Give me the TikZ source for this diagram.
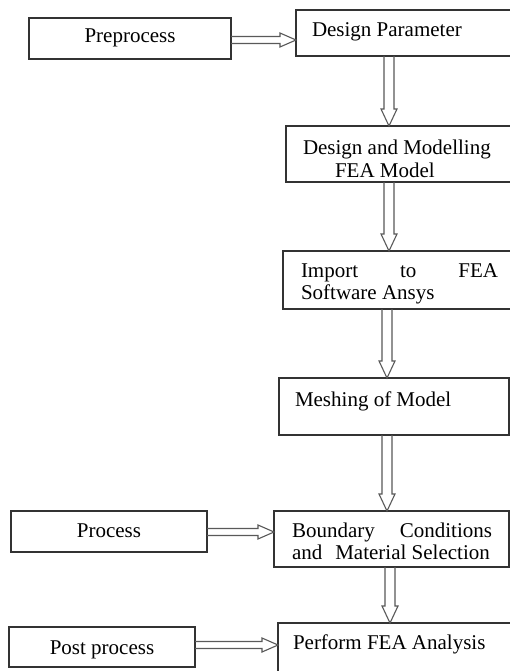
\documentclass[tikz,border=0pt]{standalone}
\usepackage{fontspec}
\setmainfont{Liberation Serif}
\usetikzlibrary{calc}
\tikzset{
  box/.style={draw=black!80, line width=1.2pt, inner sep=0pt, outer sep=0pt, anchor=north west},
  lbl/.style={inner sep=0pt, outer sep=0pt, font=\fontsize{21}{22}\selectfont, text=black},
  blk/.style={draw=black!65, line width=1.1pt, line join=miter},
}
% vertical block arrow: from node #1 (south) to node #2 (north) at x=#3
\newcommand\vblk[3]{%
  \draw[blk] let \p1=(#1.south), \p2=(#2.north) in
    (#3pt-5pt,\y1) -- (#3pt-5pt,\y2+17pt) -- (#3pt-8pt,\y2+17pt) -- (#3pt,\y2)
    -- (#3pt+8pt,\y2+17pt) -- (#3pt+5pt,\y2+17pt) -- (#3pt+5pt,\y1);}
% horizontal block arrow: from node #1 (east) to node #2 (west) at y=#3 (px from top)
\newcommand\hblk[3]{%
  \draw[blk] let \p1=(#1.east), \p2=(#2.west) in
    (\x1,-#3pt+3.5pt) -- (\x2-16pt,-#3pt+3.5pt) -- (\x2-16pt,-#3pt+7pt) -- (\x2,-#3pt)
    -- (\x2-16pt,-#3pt-7pt) -- (\x2-16pt,-#3pt-3.5pt) -- (\x1,-#3pt-3.5pt);}
\begin{document}
\begin{tikzpicture}[x=1pt,y=-1pt]
\path[use as bounding box, clip] (0,0) rectangle (510,671);
\fill[white] (0,0) rectangle (510,671);
% boxes
\node[box, minimum width=202pt, minimum height=41pt] (pre) at (29,18) {};
\node[box, minimum width=230pt, minimum height=46pt] (dp) at (296,10) {};
\node[box, minimum width=240pt, minimum height=56pt] (dm) at (286,126) {};
\node[box, minimum width=240pt, minimum height=58pt] (imp) at (283,251) {};
\node[box, minimum width=230pt, minimum height=57pt] (mesh) at (279,378) {};
\node[box, minimum width=196pt, minimum height=41pt] (proc) at (11,511) {};
\node[box, minimum width=235pt, minimum height=56pt] (bc) at (274,511) {};
\node[box, minimum width=186pt, minimum height=40pt] (post) at (9,627) {};
\node[box, minimum width=250pt, minimum height=70pt] (pf) at (278,623) {};
% texts
\node[lbl, anchor=base] (t1) at (130,43) {Preprocess};
\node[lbl, anchor=base west] (t2) at (312,37) {Design Parameter};
\node[lbl, anchor=base west] (t3a) at (303,155) {Design and Modelling};
\node[lbl, anchor=base west] (t3b) at (335,177) {FEA Model};
\node[lbl, anchor=base west] (t4a) at (301,277) {\makebox[197pt][s]{Import to FEA}};
\node[lbl, anchor=base west] (t4b) at (301,299) {Software Ansys};
\node[lbl, anchor=base west] (t5) at (295,406) {Meshing of Model};
\node[lbl, anchor=base] (t6) at (109,537) {Process};
\node[lbl, anchor=base west] (t7a) at (292,537) {\makebox[200pt][s]{Boundary Conditions}};
\node[lbl, anchor=base west] (t7b) at (292,559) {and\hspace{13pt}Material Selection};
\node[lbl, anchor=base west] (t8) at (293,649) {Perform FEA Analysis};
\node[lbl, anchor=base] (t9) at (102,654) {Post process};
% arrows
\hblk{pre}{dp}{40}
\vblk{dp}{dm}{389}
\vblk{dm}{imp}{389}
\vblk{imp}{mesh}{387}
\vblk{mesh}{bc}{387}
\hblk{proc}{bc}{532}
\vblk{bc}{pf}{390}
\hblk{post}{pf}{645}
\end{tikzpicture}
\end{document}
